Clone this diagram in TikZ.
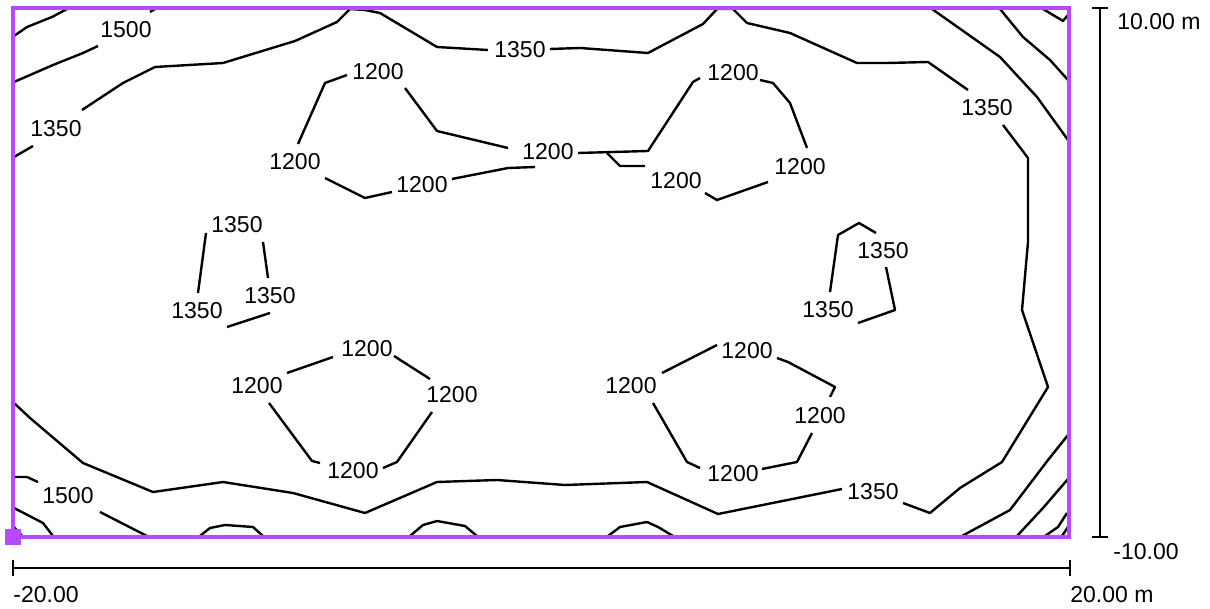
\documentclass[tikz,border=0pt]{standalone}
\usepackage{fontspec}
\setmainfont{Liberation Sans}
\usepackage{tikz}
\definecolor{framepurple}{RGB}{180,75,255}
\tikzset{
  iso/.style={line width=1.2pt,line join=round},
  lbl/.style={inner sep=0pt,font=\fontsize{11.5}{13}\selectfont},
  scalebar/.style={line width=1.2pt},
  frame/.style={draw=framepurple,line width=2.4pt}
}

\begin{document}
\begin{tikzpicture}[x=0.5pt,y=-0.5pt]
\useasboundingbox (0,0) rectangle (1210,609);

% contour labels
\foreach \x/\y/\t [count=\n] in {126/30/1500, 56/129/1350, 520/50/1350, 987/108/1350,
    378/72/1200, 295/162/1200, 422/185/1200, 548/152/1200, 733/73/1200,
    676/181/1200, 800/167/1200, 237/225/1350, 197/311/1350, 270/296/1350,
    883/251/1350, 828/310/1350, 367/349/1200, 257/386/1200, 452/395/1200,
    353/471/1200, 747/351/1200, 631/386/1200, 820/416/1200, 733/474/1200,
    873/492/1350, 68/496/1500} {
  \node[lbl] (lab\n) at (\x,\y) {\t};
}

% outer contours
\draw[iso] plot coordinates {(14,36) (27,27) (52,17) (67,9)};
\draw[iso] plot coordinates {(14,82) (53,65) (83,53) (98,46)};
\draw[iso] plot coordinates {(150,12) (155,9)};
\draw[iso] plot coordinates {(14,157) (33,146)};
\draw[iso] plot coordinates {(82,110) (123,83) (155,67) (223,63) (295,41) (337,22)
    (350,9) (365,10) (380,13) (437,47) (488,50)};
\draw[iso] plot coordinates {(550,49) (580,48) (648,53) (703,24) (717,9) (733,9)
    (747,23) (790,33) (857,63) (887,63) (928,62) (968,90)};
\draw[iso] plot coordinates {(1003,125) (1028,158) (1028,242) (1022,310) (1048,387)
    (1002,462) (960,488) (930,513) (903,503)};
\draw[iso] plot coordinates {(842,489) (718,514) (647,482) (565,485) (497,480)
    (437,482) (365,513) (293,493) (223,482) (153,492) (83,463) (30,418) (14,403)};
\draw[iso] plot coordinates {(932,9) (1000,57) (1037,97) (1068,140)};
\draw[iso] plot coordinates {(1000,9) (1023,37) (1050,60) (1068,80)};
\draw[iso] plot coordinates {(1043,9) (1063,21) (1068,15)};
\draw[iso] plot coordinates {(14,477) (27,477) (38,482)};
\draw[iso] plot coordinates {(100,512) (147,536)};
\draw[iso] plot coordinates {(14,508) (43,523) (53,536)};
\draw[iso] plot coordinates {(14,527) (22,536)};
\draw[iso] plot coordinates {(200,536) (210,528) (225,525) (253,527) (263,536)};
\draw[iso] plot coordinates {(410,536) (423,525) (437,521) (465,526) (477,536)};
\draw[iso] plot coordinates {(608,536) (620,527) (647,522) (658,527) (673,536)};
\draw[iso] plot coordinates {(962,536) (1010,510) (1048,460) (1068,435)};
\draw[iso] plot coordinates {(1017,536) (1043,508) (1068,479)};
\draw[iso] plot coordinates {(1045,536) (1058,527) (1067,513)};
\draw[iso] plot coordinates {(1062,536) (1068,527)};

% upper 1200 contours
\draw[iso] plot coordinates {(347,75) (325,83) (298,144)};
\draw[iso] plot coordinates {(325,178) (365,198) (392,192)};
\draw[iso] plot coordinates {(452,179) (508,168) (535,167)};
\draw[iso] plot coordinates {(405,88) (437,131) (508,148)};
\draw[iso] plot coordinates {(578,153) (648,151) (693,82) (700,78)};
\draw[iso] plot coordinates {(607,153) (620,166) (645,166)};
\draw[iso] plot coordinates {(705,193) (717,200) (768,182)};
\draw[iso] plot coordinates {(807,148) (790,103) (773,83) (760,80)};

% middle 1350 islands
\draw[iso] plot coordinates {(206,233) (198,293)};
\draw[iso] plot coordinates {(263,242) (268,278)};
\draw[iso] plot coordinates {(227,327) (270,313)};
\draw[iso] plot coordinates {(830,292) (838,235) (859,223) (876,233)};
\draw[iso] plot coordinates {(886,267) (895,310) (858,323)};

% lower 1200 contours
\draw[iso] plot coordinates {(333,357) (287,373)};
\draw[iso] plot coordinates {(269,403) (312,461) (320,463)};
\draw[iso] plot coordinates {(383,468) (397,462) (432,412)};
\draw[iso] plot coordinates {(394,356) (430,379)};
\draw[iso] plot coordinates {(717,345) (662,373)};
\draw[iso] plot coordinates {(777,358) (788,362) (835,387) (830,397)};
\draw[iso] plot coordinates {(812,433) (797,462) (762,469)};
\draw[iso] plot coordinates {(700,468) (687,462) (653,403)};

% frame and origin mark
\draw[frame] (13,8) rectangle (1069,537);
\fill[framepurple] (5,529) rectangle (21,545);

% scale bars
\coordinate (ytop) at (1100,8);
\coordinate (ybot) at (1100,537);
\coordinate (xleft) at (13,568);
\coordinate (xright) at (1070,568);
\draw[scalebar] (ytop) -- (ybot);
\draw[scalebar] ([xshift=-4pt]ytop) -- ([xshift=4pt]ytop);
\draw[scalebar] ([xshift=-4pt]ybot) -- ([xshift=4pt]ybot);
\draw[scalebar] (xleft) -- (xright);
\draw[scalebar] ([yshift=-4pt]xleft) -- ([yshift=4pt]xleft);
\draw[scalebar] ([yshift=-4pt]xright) -- ([yshift=4pt]xright);
\node[lbl,anchor=west] (ymax) at (1117,22) {10.00 m};
\node[lbl,anchor=west] (ymin) at (1113,552) {-10.00};
\node[lbl,anchor=west] (xmin) at (13,595) {-20.00};
\node[lbl,anchor=west] (xmax) at (1070,595) {20.00 m};
\end{tikzpicture}
\end{document}
